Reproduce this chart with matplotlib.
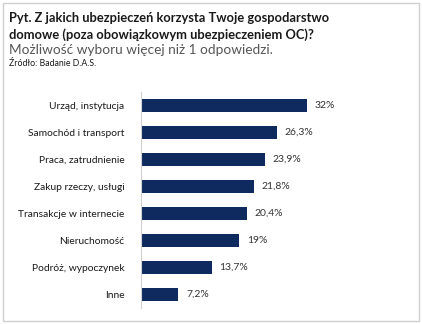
import matplotlib.pyplot as plt
from matplotlib.patches import Rectangle

categories = ["Urząd, instytucja", "Samochód i transport", "Praca, zatrudnienie",
              "Zakup rzeczy, usługi", "Transakcje w internecie", "Nieruchomość",
              "Podróż, wypoczynek", "Inne"]
values = [32, 26.3, 23.9, 21.8, 20.4, 19, 13.7, 7.2]
value_labels = ["32%", "26,3%", "23,9%", "21,8%", "20,4%", "19%", "13,7%", "7,2%"]

plt.rcParams['font.family'] = ['Lato', 'DejaVu Sans']

fig = plt.figure(figsize=(4.22, 3.24), dpi=100)
fig.patches.append(Rectangle((3 / 422, 3 / 324), 416 / 422, 318 / 324,
                             transform=fig.transFigure, fill=False,
                             edgecolor="#d0d0d0", linewidth=1))

fig.text(9 / 422, 1 - 18 / 324, "Pyt. Z jakich ubezpieczeń korzysta Twoje gospodarstwo",
         fontsize=9.3, fontweight="bold", color="#1a1a1a", va="center")
fig.text(9 / 422, 1 - 35 / 324, "domowe (poza obowiązkowym ubezpieczeniem OC)?",
         fontsize=9.3, fontweight="bold", color="#1a1a1a", va="center")
fig.text(9 / 422, 1 - 50 / 324, "Możliwość wyboru więcej niż 1 odpowiedzi.",
         fontsize=9.8, color="#555555", va="center")
fig.text(9 / 422, 1 - 63 / 324, "Źródło: Badanie D.A.S.",
         fontsize=6.3, color="#1a1a1a", va="center")

ax = fig.add_axes([141 / 422, 16 / 324, 207 / 422, 216 / 324])
pos = list(range(len(categories)))
ax.barh(pos, values, height=0.48, color="#0f2a5e")
ax.set_xlim(0, 40)
ax.set_ylim(len(categories) - 0.5, -0.5)
ax.set_yticks(pos)
ax.set_yticklabels(categories, fontsize=7.4, color="#1a1a1a")
ax.tick_params(axis="y", length=0, pad=12)
ax.set_xticks([])
for s in ["top", "right", "bottom"]:
    ax.spines[s].set_visible(False)
ax.spines["left"].set_color("#d0d0d0")

for p, v, lab in zip(pos, values, value_labels):
    ax.text(v + 1.5, p, lab, va="center", ha="left", fontsize=7.5, color="#333333")

fig.savefig("out.png", dpi=100)
